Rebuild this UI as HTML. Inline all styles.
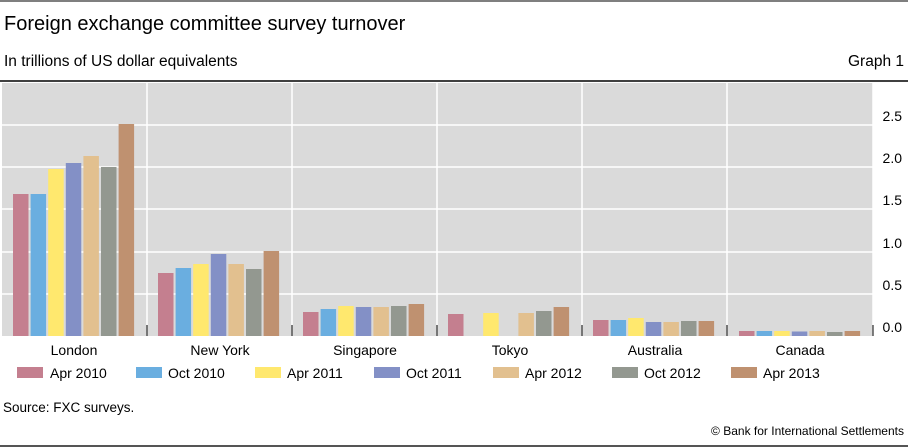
<!DOCTYPE html>
<html><head><meta charset="utf-8"><style>
body{margin:0;background:#fff;}
svg{display:block;font-family:"Liberation Sans",Arial,sans-serif;}
</style></head><body>
<svg width="908" height="448" xmlns="http://www.w3.org/2000/svg">
<line x1="0" y1="1" x2="908" y2="1" stroke="#555" stroke-width="1.5"/>
<text x="4" y="30" font-size="20" fill="#000">Foreign exchange committee survey turnover</text>
<text x="4" y="66" font-size="15.5" fill="#000">In trillions of US dollar equivalents</text>
<text x="904" y="66" font-size="15.5" fill="#000" text-anchor="end">Graph 1</text>
<line x1="0" y1="81" x2="908" y2="81" stroke="#000" stroke-width="1.5"/>
<rect x="2" y="83" width="871" height="253" fill="#dadada"/>
<g stroke="#fff" stroke-width="1.5">
<line x1="2" y1="125" x2="873" y2="125"/>
<line x1="2" y1="167" x2="873" y2="167"/>
<line x1="2" y1="209" x2="873" y2="209"/>
<line x1="2" y1="252" x2="873" y2="252"/>
<line x1="2" y1="294" x2="873" y2="294"/>
<line x1="147" y1="83" x2="147" y2="336"/>
<line x1="292" y1="83" x2="292" y2="336"/>
<line x1="437" y1="83" x2="437" y2="336"/>
<line x1="582" y1="83" x2="582" y2="336"/>
<line x1="727" y1="83" x2="727" y2="336"/>
<line x1="873" y1="83" x2="873" y2="336"/>
</g>
<g stroke="#000" stroke-width="1">
<line x1="147" y1="325" x2="147" y2="336"/>
<line x1="292" y1="325" x2="292" y2="336"/>
<line x1="437" y1="325" x2="437" y2="336"/>
<line x1="582" y1="325" x2="582" y2="336"/>
<line x1="727" y1="325" x2="727" y2="336"/>
<line x1="873" y1="325" x2="873" y2="336"/>
</g>
<g id="bars"></g>
<g font-size="14" fill="#000" text-anchor="end">
<text x="902" y="121">2.5</text>
<text x="902" y="163">2.0</text>
<text x="902" y="205">1.5</text>
<text x="902" y="248">1.0</text>
<text x="902" y="290">0.5</text>
<text x="902" y="332">0.0</text>
</g>
<g font-size="14" fill="#000" text-anchor="middle">
<text x="74" y="355">London</text>
<text x="220" y="355">New York</text>
<text x="365" y="355">Singapore</text>
<text x="510" y="355">Tokyo</text>
<text x="655" y="355">Australia</text>
<text x="800" y="355">Canada</text>
</g>
<g font-size="14" fill="#000">
<rect x="17" y="367" width="26" height="11" fill="#c47f8f"/><text x="50" y="378">Apr 2010</text>
<rect x="136" y="367" width="26" height="11" fill="#6aaee0"/><text x="168" y="378">Oct 2010</text>
<rect x="255" y="367" width="26" height="11" fill="#ffe86e"/><text x="287" y="378">Apr 2011</text>
<rect x="374" y="367" width="26" height="11" fill="#8390c6"/><text x="406" y="378">Oct 2011</text>
<rect x="493" y="367" width="26" height="11" fill="#e2c08f"/><text x="525" y="378">Apr 2012</text>
<rect x="612" y="367" width="26" height="11" fill="#939890"/><text x="644" y="378">Oct 2012</text>
<rect x="731" y="367" width="26" height="11" fill="#bf9170"/><text x="763" y="378">Apr 2013</text>
</g>
<text x="3" y="412" font-size="13.5" fill="#000">Source: FXC surveys.</text>
<text x="904" y="435" font-size="12" fill="#000" text-anchor="end">© Bank for International Settlements</text>
<line x1="0" y1="446" x2="908" y2="446" stroke="#555" stroke-width="2"/>
<g>
<!-- London -->
<rect x="13" y="194" width="15.5" height="142" fill="#c47f8f"/>
<rect x="30.6" y="194" width="15.5" height="142" fill="#6aaee0"/>
<rect x="48.2" y="169" width="15.5" height="167" fill="#ffe86e"/>
<rect x="65.8" y="163" width="15.5" height="173" fill="#8390c6"/>
<rect x="83.4" y="156" width="15.5" height="180" fill="#e2c08f"/>
<rect x="101" y="167" width="15.5" height="169" fill="#939890"/>
<rect x="118.6" y="124" width="15.5" height="212" fill="#bf9170"/>
<!-- New York -->
<rect x="158" y="273" width="15.5" height="63" fill="#c47f8f"/>
<rect x="175.6" y="268" width="15.5" height="68" fill="#6aaee0"/>
<rect x="193.2" y="264" width="15.5" height="72" fill="#ffe86e"/>
<rect x="210.8" y="254" width="15.5" height="82" fill="#8390c6"/>
<rect x="228.4" y="264" width="15.5" height="72" fill="#e2c08f"/>
<rect x="246" y="269" width="15.5" height="67" fill="#939890"/>
<rect x="263.6" y="251" width="15.5" height="85" fill="#bf9170"/>
<!-- Singapore -->
<rect x="303" y="312" width="15.5" height="24" fill="#c47f8f"/>
<rect x="320.6" y="309" width="15.5" height="27" fill="#6aaee0"/>
<rect x="338.2" y="306" width="15.5" height="30" fill="#ffe86e"/>
<rect x="355.8" y="307" width="15.5" height="29" fill="#8390c6"/>
<rect x="373.4" y="307" width="15.5" height="29" fill="#e2c08f"/>
<rect x="391" y="306" width="15.5" height="30" fill="#939890"/>
<rect x="408.6" y="304" width="15.5" height="32" fill="#bf9170"/>
<!-- Tokyo -->
<rect x="448" y="314" width="15.5" height="22" fill="#c47f8f"/>
<rect x="483.2" y="313" width="15.5" height="23" fill="#ffe86e"/>
<rect x="518.4" y="313" width="15.5" height="23" fill="#e2c08f"/>
<rect x="536" y="311" width="15.5" height="25" fill="#939890"/>
<rect x="553.6" y="307" width="15.5" height="29" fill="#bf9170"/>
<!-- Australia -->
<rect x="593" y="320" width="15.5" height="16" fill="#c47f8f"/>
<rect x="610.6" y="320" width="15.5" height="16" fill="#6aaee0"/>
<rect x="628.2" y="318" width="15.5" height="18" fill="#ffe86e"/>
<rect x="645.8" y="322" width="15.5" height="14" fill="#8390c6"/>
<rect x="663.4" y="322" width="15.5" height="14" fill="#e2c08f"/>
<rect x="681" y="321" width="15.5" height="15" fill="#939890"/>
<rect x="698.6" y="321" width="15.5" height="15" fill="#bf9170"/>
<!-- Canada -->
<rect x="739" y="331" width="15.5" height="5" fill="#c47f8f"/>
<rect x="756.6" y="331" width="15.5" height="5" fill="#6aaee0"/>
<rect x="774.2" y="331" width="15.5" height="5" fill="#ffe86e"/>
<rect x="791.8" y="331.5" width="15.5" height="4.5" fill="#8390c6"/>
<rect x="809.4" y="331" width="15.5" height="5" fill="#e2c08f"/>
<rect x="827" y="332" width="15.5" height="4" fill="#939890"/>
<rect x="844.6" y="331" width="15.5" height="5" fill="#bf9170"/>
</g>
</svg>
</body></html>
